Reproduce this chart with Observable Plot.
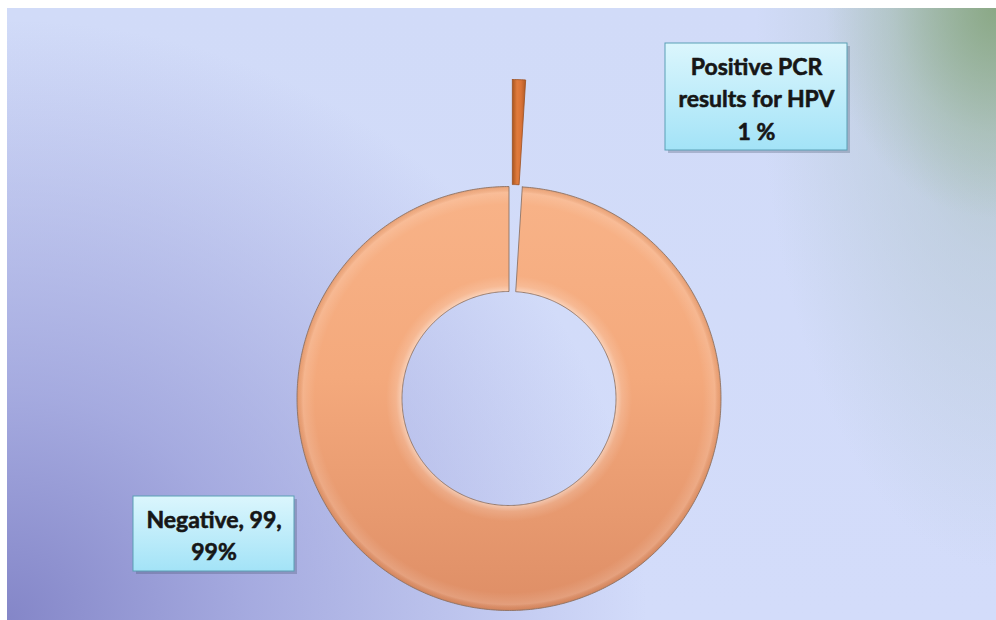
<!DOCTYPE html>
<html><head><meta charset="utf-8">
<script src="https://cdn.jsdelivr.net/npm/d3@7"></script>
<script src="https://cdn.jsdelivr.net/npm/@observablehq/plot@0.6"></script>
<style>
html,body{margin:0;padding:0;background:#fff;}
#wrap{position:relative;width:996px;height:620px;overflow:hidden;background:#fff;}
#bg{position:absolute;left:7px;top:8px;right:0;bottom:0;
 background:
  radial-gradient(ellipse 170px 210px at 100% 0%, rgba(130,162,120,0.8) 0%, rgba(150,178,150,0.35) 60%, rgba(200,215,230,0) 100%),
  radial-gradient(ellipse 240px 560px at 100% 0%, rgba(160,185,170,0.75) 0%, rgba(175,195,200,0.45) 45%, rgba(210,220,245,0) 100%),
  radial-gradient(ellipse 640px 600px at 0% 100%, rgba(132,134,200,1) 0%, rgba(150,154,215,0.75) 38%, rgba(211,220,249,0) 100%),
  linear-gradient(180deg, #d1dbf8 0%, #d3dcfa 100%);}
#chart{position:absolute;left:0;top:0;}
</style></head><body>
<div id="wrap"><div id="bg"></div><div id="chart"></div></div>
<script>
// ---- data ----
const categories = ["Positive PCR\nresults for HPV", "Negative"];
const counts = [1, 99];
const percents = [1, 99];

// ---- layout (pixels) ----
const W = 996, H = 620;
const CX = 508.5, CY = 398;       // donut centre
const R_OUT = 212, R_IN = 107;    // radii
const EXPLODE = [107, 0];          // explosion distance per slice
const BOXES = [
  {x1: 665, x2: 847, y1: 43, y2: 150},
  {x1: 133, x2: 294, y1: 496, y2: 571}
];

const rows = categories.map((c, i) => ({
  key: i === 0 ? "pos" : "neg",
  name: c, value: counts[i], pct: percents[i],
  label: i === 0 ? `${c}\n${percents[i]} %` : `${c}, ${counts[i]},\n${percents[i]}%`
}));

const arcs = d3.pie().sort(null).value(d => d.value).startAngle(0).endAngle(2 * Math.PI)(rows);

// polygon points (data units = pixels relative to centre, y up)
const pts = [];
arcs.forEach((a, i) => {
  const mid = (a.startAngle + a.endAngle) / 2;
  const ox = EXPLODE[i] * Math.sin(mid), oy = EXPLODE[i] * Math.cos(mid);
  const n = Math.max(6, Math.ceil((a.endAngle - a.startAngle) * 90));
  const ring = [];
  for (let k = 0; k <= n; k++) {
    const t = a.startAngle + (a.endAngle - a.startAngle) * k / n;
    ring.push([R_OUT * Math.sin(t) + ox, R_OUT * Math.cos(t) + oy]);
  }
  for (let k = n; k >= 0; k--) {
    const t = a.startAngle + (a.endAngle - a.startAngle) * k / n;
    ring.push([R_IN * Math.sin(t) + ox, R_IN * Math.cos(t) + oy]);
  }
  ring.push(ring[0]);
  ring.forEach(([x, y]) => pts.push({key: a.data.key, x, y}));
});

const boxes = rows.map((r, i) => ({
  ...r,
  x1: BOXES[i].x1 - CX, x2: BOXES[i].x2 - CX,
  y1: CY - BOXES[i].y1, y2: CY - BOXES[i].y2,
  tx: (BOXES[i].x1 + BOXES[i].x2) / 2 - CX,
  ty: CY - (BOXES[i].y1 + BOXES[i].y2) / 2
}));

const isNeg = d => d.key === "neg", isPos = d => d.key === "pos";

const chart = Plot.plot({
  width: W, height: H,
  margin: 0,
  style: {background: "transparent", overflow: "visible"},
  x: {domain: [-CX, W - CX], range: [0, W], axis: null},
  y: {domain: [-(H - CY), CY], range: [H, 0], axis: null},
  marks: [
    Plot.line(pts, {filter: isNeg, x: "x", y: "y", fill: "url(#gNeg)", stroke: "none", curve: "linear"}),
    Plot.line(pts, {filter: isNeg, x: "x", y: "y", fill: "url(#gBevel)", stroke: "none", curve: "linear"}),
    Plot.line(pts, {filter: isNeg, x: "x", y: "y", fill: "none", stroke: "#8a7062", strokeWidth: 1, strokeOpacity: 0.85}),
    Plot.line(pts, {filter: isPos, x: "x", y: "y", fill: "url(#gPos)", stroke: "#9c4f20", strokeWidth: 0.8}),
    Plot.rect(boxes, {x1: "x1", x2: "x2", y1: "y1", y2: "y2", fill: "#3c4a66", fillOpacity: 0.28, dx: 3, dy: 3}),
    Plot.rect(boxes, {x1: "x1", x2: "x2", y1: "y1", y2: "y2", fill: "url(#gBox)", stroke: "#5a9fb5", strokeWidth: 1}),
    Plot.text(boxes, {x: "tx", y: "ty", text: "label", fontSize: 23, fontWeight: "bold",
      fontFamily: "Lato, 'Open Sans', sans-serif", fill: "#161616", stroke: "#161616", strokeWidth: 0.6,
      lineHeight: 1.4, textAnchor: "middle"})
  ]
});

const sx = chart.scale("x"), sy = chart.scale("y");
const pcx = sx.apply(0), pcy = sy.apply(0);
const f = v => (v / R_OUT).toFixed(4);
d3.select(chart).insert("defs", ":first-child").html(`
  <linearGradient id="gNeg" x1="0" y1="0" x2="0" y2="1">
    <stop offset="0" stop-color="#f8b388"/>
    <stop offset="0.45" stop-color="#f4a97c"/>
    <stop offset="1" stop-color="#de8e66"/>
  </linearGradient>
  <radialGradient id="gBevel" gradientUnits="userSpaceOnUse" cx="${pcx}" cy="${pcy}" r="${R_OUT}">
    <stop offset="${f(R_IN)}" stop-color="#fff" stop-opacity="0.45"/>
    <stop offset="${f(R_IN + 6)}" stop-color="#fff" stop-opacity="0.15"/>
    <stop offset="${f(R_IN + 16)}" stop-color="#fff" stop-opacity="0"/>
    <stop offset="${f(R_OUT - 18)}" stop-color="#fff" stop-opacity="0"/>
    <stop offset="${f(R_OUT - 6)}" stop-color="#fff" stop-opacity="0.14"/>
    <stop offset="${f(R_OUT - 2)}" stop-color="#7a4a30" stop-opacity="0.08"/>
    <stop offset="1" stop-color="#7a4a30" stop-opacity="0.2"/>
  </radialGradient>
  <linearGradient id="gPos" x1="0" y1="0" x2="1" y2="0">
    <stop offset="0" stop-color="#a9551f"/>
    <stop offset="0.35" stop-color="#e07b3d"/>
    <stop offset="0.65" stop-color="#da7337"/>
    <stop offset="1" stop-color="#b05a26"/>
  </linearGradient>
  <linearGradient id="gBox" x1="0" y1="0" x2="0" y2="1">
    <stop offset="0" stop-color="#dbf6fd"/>
    <stop offset="1" stop-color="#a3e3f7"/>
  </linearGradient>
`);
document.getElementById("chart").appendChild(chart);
</script>
</body></html>
